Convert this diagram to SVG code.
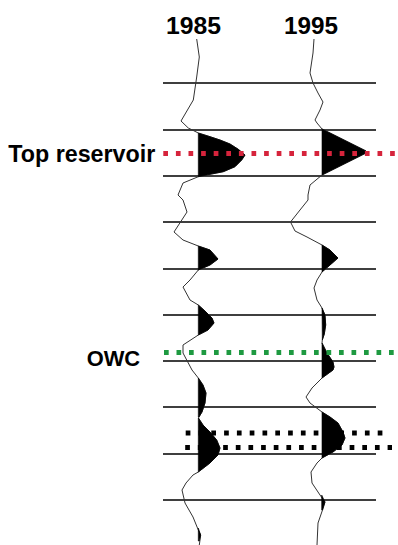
<svg xmlns="http://www.w3.org/2000/svg" width="398" height="545" viewBox="0 0 398 545">
<style>
.t{font-family:"Liberation Sans",Arial,sans-serif;font-weight:bold;fill:#000}
.h{stroke:#000;stroke-width:1.3;fill:none}
.tr{stroke:#333;stroke-width:1;fill:none;stroke-linejoin:round}
.lobe{fill:#000;stroke:#000;stroke-width:0.6}
.dot{fill:none;stroke-width:5}
</style>
<rect width="398" height="545" fill="#fff"/>
<g id="grid">
<path class="h" d="M163,83H376M163,130H376M163,176H376M163,222H376M163,269H376M163,315H376M163,361H376M163,407H376M163,454H376M163,500H376"/>
</g>
<g id="trace-1985">
<path class="tr" d="M196.7,39 L199.3,57 L196.7,77 L193.3,100 L181,121 L188.3,128 L198.3,133 L210,136.7 L220,140 L230,144 L238.3,149.3 L245,155 L241.7,160 L235,166.7 L223.3,171.7 L210,174.3 L198.3,176.7 L183,183 L178,195 L183,200 L187,212 L174,232 L183,240 L198.3,246 L210,250 L218,259 L210,265 L198.3,270 L190,280 L183,287 L190,300 L198.3,305 L205,311 L212,318 L214,323 L208,330 L198.3,335 L183,345 L183,353 L192,370 L198.3,378 L203,385 L206,393 L205,403 L202,412 L199,417 L198.5,418 L203,425 L210,432 L216.7,440 L220,448 L218,455 L210,463 L198.3,472 L193,475 L186,483 L182,490 L185,503 L193,517 L198.3,530 L200.7,535 L199.3,545"/>
<path class="lobe" d="M198.3,133 L210,136.7 L220,140 L230,144 L238.3,149.3 L245,155 L241.7,160 L235,166.7 L223.3,171.7 L210,174.3 L198.3,176.7 Z"/>
<path class="lobe" d="M198.3,246 L210,250 L218,259 L210,265 L198.3,270 Z"/>
<path class="lobe" d="M198.3,305 L205,311 L212,318 L214,323 L208,330 L198.3,335 Z"/>
<path class="lobe" d="M198.3,378 L203,385 L206,393 L205,403 L202,412 L199,417 L198.3,417 Z"/>
<path class="lobe" d="M198.3,418 L203,425 L210,432 L216.7,440 L220,448 L218,455 L210,463 L198.3,472 Z"/>
<path class="lobe" d="M198.3,528 L200.7,535 L199.3,541 L198.3,541 Z"/>
</g>
<g id="trace-1995">
<path class="tr" d="M314,39 L313,53 L310,73 L313,83 L318,93 L323,102 L320,110 L315,120 L317,123 L322,129 L344,140 L366,151 L366,153 L344,164 L322,175 L310,185 L308,195 L308,200 L300,210 L290.5,222 L295,231 L307,237 L322,245 L330,250 L338,258 L330,265 L322,272 L317,280 L314,288 L317,300 L322,308 L325,315 L325.7,325 L324.3,334 L322.3,340 L322,343 L327,353 L333,362 L334,367 L333,370 L322,378 L312,388 L306,397 L310,403 L322,412 L330,417 L338,423 L343,432 L345,438 L342,445 L333,452 L322,458 L317,463 L311,472 L312,483 L320,495 L325,502 L322.5,510 L318,523 L317,545"/>
<path class="lobe" d="M322,129 L344,140 L366,151 L366,153 L344,164 L322,175 Z"/>
<path class="lobe" d="M322,245 L330,250 L338,258 L330,265 L322,272 Z"/>
<path class="lobe" d="M322,308 L325,315 L325.7,325 L324.3,334 L322.3,340 Z"/>
<path class="lobe" d="M322,343 L327,353 L333,362 L334,367 L333,370 L322,378 Z"/>
<path class="lobe" d="M322,412 L330,417 L338,423 L343,432 L345,438 L342,445 L333,452 L322,458 Z"/>
<path class="lobe" d="M321.7,495 L325,502 L322.5,510 L321.7,510 Z"/>
</g>
<g id="markers">
<path class="dot" stroke="#d6243c" stroke-dasharray="4.7 7.9" d="M163.3,153.5H400"/>
<path class="dot" stroke="#1e9a41" stroke-dasharray="4.7 7.8" d="M164,352.5H400"/>
<path class="dot" stroke="#000" stroke-dasharray="4.7 8.1" d="M185.7,433H383"/>
<path class="dot" stroke="#000" stroke-dasharray="4.7 7.95" d="M185.2,447.5H392"/>
</g>
<g id="labels">
<text class="t" x="193.5" y="34" font-size="24" text-anchor="middle" textLength="55" lengthAdjust="spacingAndGlyphs">1985</text>
<text class="t" x="311" y="34" font-size="24" text-anchor="middle" textLength="54" lengthAdjust="spacingAndGlyphs">1995</text>
<text class="t" x="8.3" y="161.5" font-size="23" textLength="147" lengthAdjust="spacingAndGlyphs">Top reservoir</text>
<text class="t" x="86.7" y="365.5" font-size="22.5" textLength="53.5" lengthAdjust="spacingAndGlyphs">OWC</text>
</g>
</svg>
